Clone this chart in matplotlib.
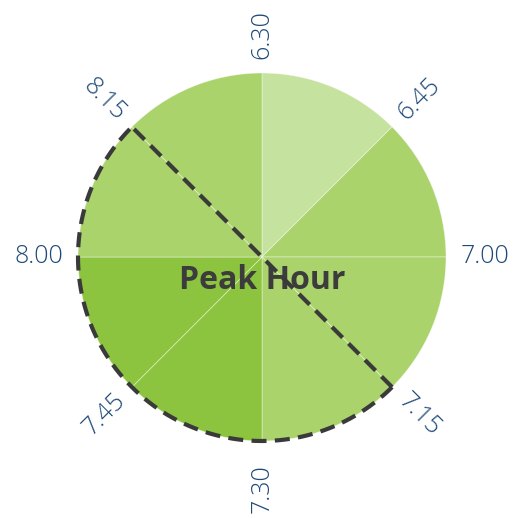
import numpy as np
import matplotlib
matplotlib.use("Agg")
import matplotlib.pyplot as plt

# Data
times = ["6.30", "6.45", "7.00", "7.15", "7.30", "7.45", "8.00", "8.15"]
durations = [15, 15, 15, 15, 15, 15, 15, 15]
slice_colors = ["#c6e29f", "#aad36c", "#aad36c", "#aad36c",
                "#8dc43f", "#8dc43f", "#aad36c", "#aad36c"]
peak_start = "7.15"
peak_end = "8.15"
center_text = "Peak Hour"

fig = plt.figure(figsize=(5.24, 5.18), dpi=100)
ax = fig.add_axes([0, 0, 1, 1])

ax.pie(durations, colors=slice_colors, startangle=90, counterclock=False,
       radius=1, center=(0, 0),
       wedgeprops=dict(edgecolor=(1, 1, 1, 0.45), linewidth=0.6))
ax.set_xlim(-262 / 184, 262 / 184)
ax.set_ylim(-(518 - 257) / 184, 257 / 184)
ax.set_aspect("equal")
ax.axis("off")

total = sum(durations)
bounds = np.concatenate([[0], np.cumsum(durations)])
# math angle of each boundary (clockwise from top)
ang = 90 - 360 * bounds[:-1] / total

for t, a in zip(times, ang):
    rad = np.deg2rad(a)
    rot = ((a + 90) % 180) - 90
    if np.isclose(rot, -90):
        rot = 90
    r = 1.21
    if np.isclose(a, -90):
        r = 1.26
    ax.text(r * np.cos(rad), r * np.sin(rad), t, rotation=rot,
            rotation_mode="anchor", ha="center", va="center",
            fontsize=18, color="#1f4a78", family="Open Sans", fontweight="light")

i0 = times.index(peak_start)
i1 = times.index(peak_end)
a0 = ang[i0]
a1 = ang[i1]
dash = (0, (3.6, 2.0))
# diameter
ax.plot([np.cos(np.deg2rad(a0)), np.cos(np.deg2rad(a1))],
        [np.sin(np.deg2rad(a0)), np.sin(np.deg2rad(a1))],
        color="#3a3a3a", lw=3, linestyle=dash, zorder=7)
# arc going clockwise from a0 to a1
arc_a = np.linspace(a0, a1 - 360 if a1 > a0 else a1, 300)
ax.plot(np.cos(np.deg2rad(arc_a)), np.sin(np.deg2rad(arc_a)),
        color="#3a3a3a", lw=3, linestyle=dash, zorder=7)

ax.text(0, -0.13, center_text, ha="center", va="center", fontsize=23,
        fontweight="bold", color="#3c3c3c", family="Open Sans", zorder=6)

fig.savefig("out.png", dpi=100)
